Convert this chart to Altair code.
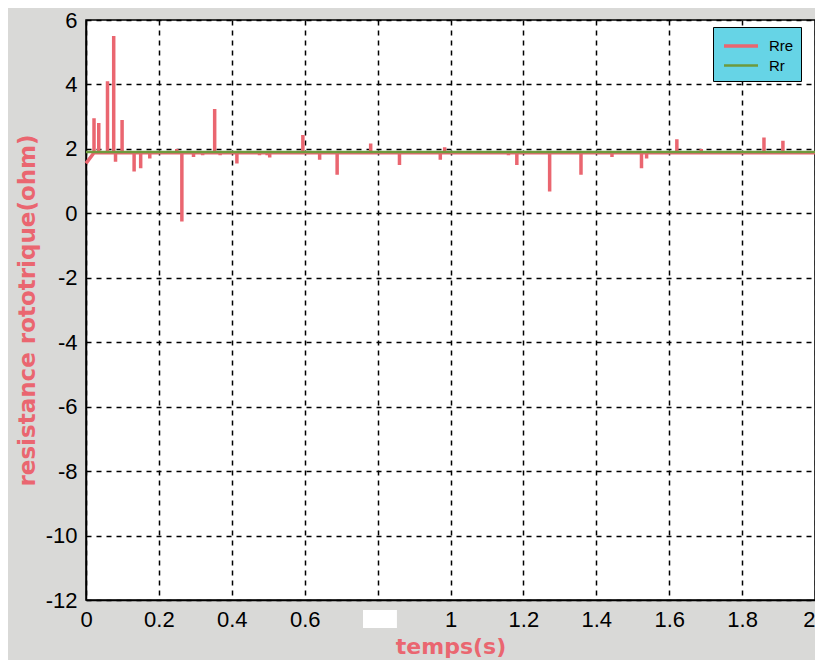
import altair as alt
import pandas as pd

# Rre: baseline value and spike (time, value) pairs
rre_base = 1.88
rre_start = 1.55
spike_t = [0.022, 0.035, 0.059, 0.076, 0.081, 0.099, 0.132, 0.150, 0.175, 0.249, 0.263,
           0.295, 0.320, 0.353, 0.368, 0.414, 0.476, 0.497, 0.504, 0.595, 0.641, 0.689,
           0.781, 0.860, 0.972, 0.984, 1.159, 1.182, 1.272, 1.358, 1.443, 1.524, 1.538,
           1.621, 1.688, 1.860, 1.912]
spike_v = [2.95, 2.80, 4.10, 5.50, 1.60, 2.90, 1.30, 1.40, 1.70, 2.00, -0.25,
           1.75, 1.80, 3.24, 1.80, 1.55, 1.80, 1.80, 1.73, 2.43, 1.66, 1.20,
           2.17, 1.50, 1.66, 2.05, 1.80, 1.50, 0.68, 1.20, 1.75, 1.40, 1.70,
           2.30, 2.00, 2.35, 2.25]
rr_t = [0.0, 2.0]
rr_v = [1.90, 1.90]
x_ticks = [0, 0.2, 0.4, 0.6, 0.8, 1, 1.2, 1.4, 1.6, 1.8, 2]
y_ticks = list(range(-12, 7, 2))

rows = [{"t": 0.0, "v": rre_start, "s": "Rre", "i": 0}]
i = 1
for t, v in zip(spike_t, spike_v):
    for val in (rre_base, v, rre_base):
        rows.append({"t": t, "v": val, "s": "Rre", "i": i})
        i += 1
rows.append({"t": 2.0, "v": rre_base, "s": "Rre", "i": i})
for k, (t, v) in enumerate(zip(rr_t, rr_v)):
    rows.append({"t": t, "v": v, "s": "Rr", "i": k})
df = pd.DataFrame(rows)

red = "#ea6670"
green = "#6e9a3c"
font = "Liberation Sans"
title_font = "DejaVu Sans"
nbsp = "\u00a0" * 4

x = alt.X("t:Q", scale=alt.Scale(domain=[0, 2], nice=False),
          axis=alt.Axis(values=x_ticks, labelFlush=False,
                        labelExpr="datum.value == 0.8 ? '' : '' + datum.value",
                        labelAlign=alt.condition("datum.value == 2", alt.value("right"),
                                                 alt.value("center")),
                        labelPadding=9, labelFontSize=22,
                        title="temps(s)", titleColor=red, titleFontSize=22,
                        titleFont=title_font, titleFontWeight="bold", titlePadding=6))
y = alt.Y("v:Q", scale=alt.Scale(domain=[-12, 6], nice=False),
          axis=alt.Axis(values=y_ticks, labelExpr="'' + datum.value", labelPadding=9,
                        labelFontSize=22,
                        title="resistance rototrique(ohm)", titleColor=red,
                        titleFont=title_font, titleFontSize=23, titleFontWeight="bold",
                        titlePadding=6))

lines = alt.Chart(df).mark_line(strokeJoin="bevel").encode(
    x=x, y=y, order="i:Q",
    color=alt.Color("s:N", scale=alt.Scale(domain=["Rre", "Rr"], range=[red, green]),
                    legend=alt.Legend(title=None, orient="none", legendX=627, legendY=7,
                                      fillColor="#66d4e6", strokeColor="#000000",
                                      padding=7, symbolType="M-1.7,0L1.7,0", symbolSize=400,
                                      symbolOffset=9, symbolStrokeWidth=3,
                                      labelFontSize=15, labelFont=font, labelColor="#000",
                                      labelExpr="datum.label + '" + nbsp + "'",
                                      rowPadding=0, labelOffset=16)),
    strokeWidth=alt.StrokeWidth("s:N", scale=alt.Scale(domain=["Rre", "Rr"], range=[3.5, 2.5]),
                                legend=None),
)

patch = alt.Chart(pd.DataFrame({"a": [0.76], "b": [0.853]})).mark_rect(
    color="white", clip=False).encode(
    x="a:Q", x2="b:Q", y=alt.value(590), y2=alt.value(608))

chart = alt.layer(lines, patch).properties(
    width=729, height=580,
    padding={"left": 78, "top": 12, "right": 0, "bottom": 60},
    autosize=alt.AutoSizeParams(type="none"),
    background="#d9d9d7",
).configure_view(
    fill="white", stroke="#000000", strokeWidth=1.5
).configure_axis(
    grid=True, gridColor="#000000", gridDash=[5, 5], gridWidth=1.5, gridOpacity=1,
    domainColor="#000000", domainWidth=1.5, tickColor="#000000", tickSize=0,
    labelFont=font, labelColor="#000000",
)

chart.save("out.html", embed_options={"renderer": "svg", "actions": False})
